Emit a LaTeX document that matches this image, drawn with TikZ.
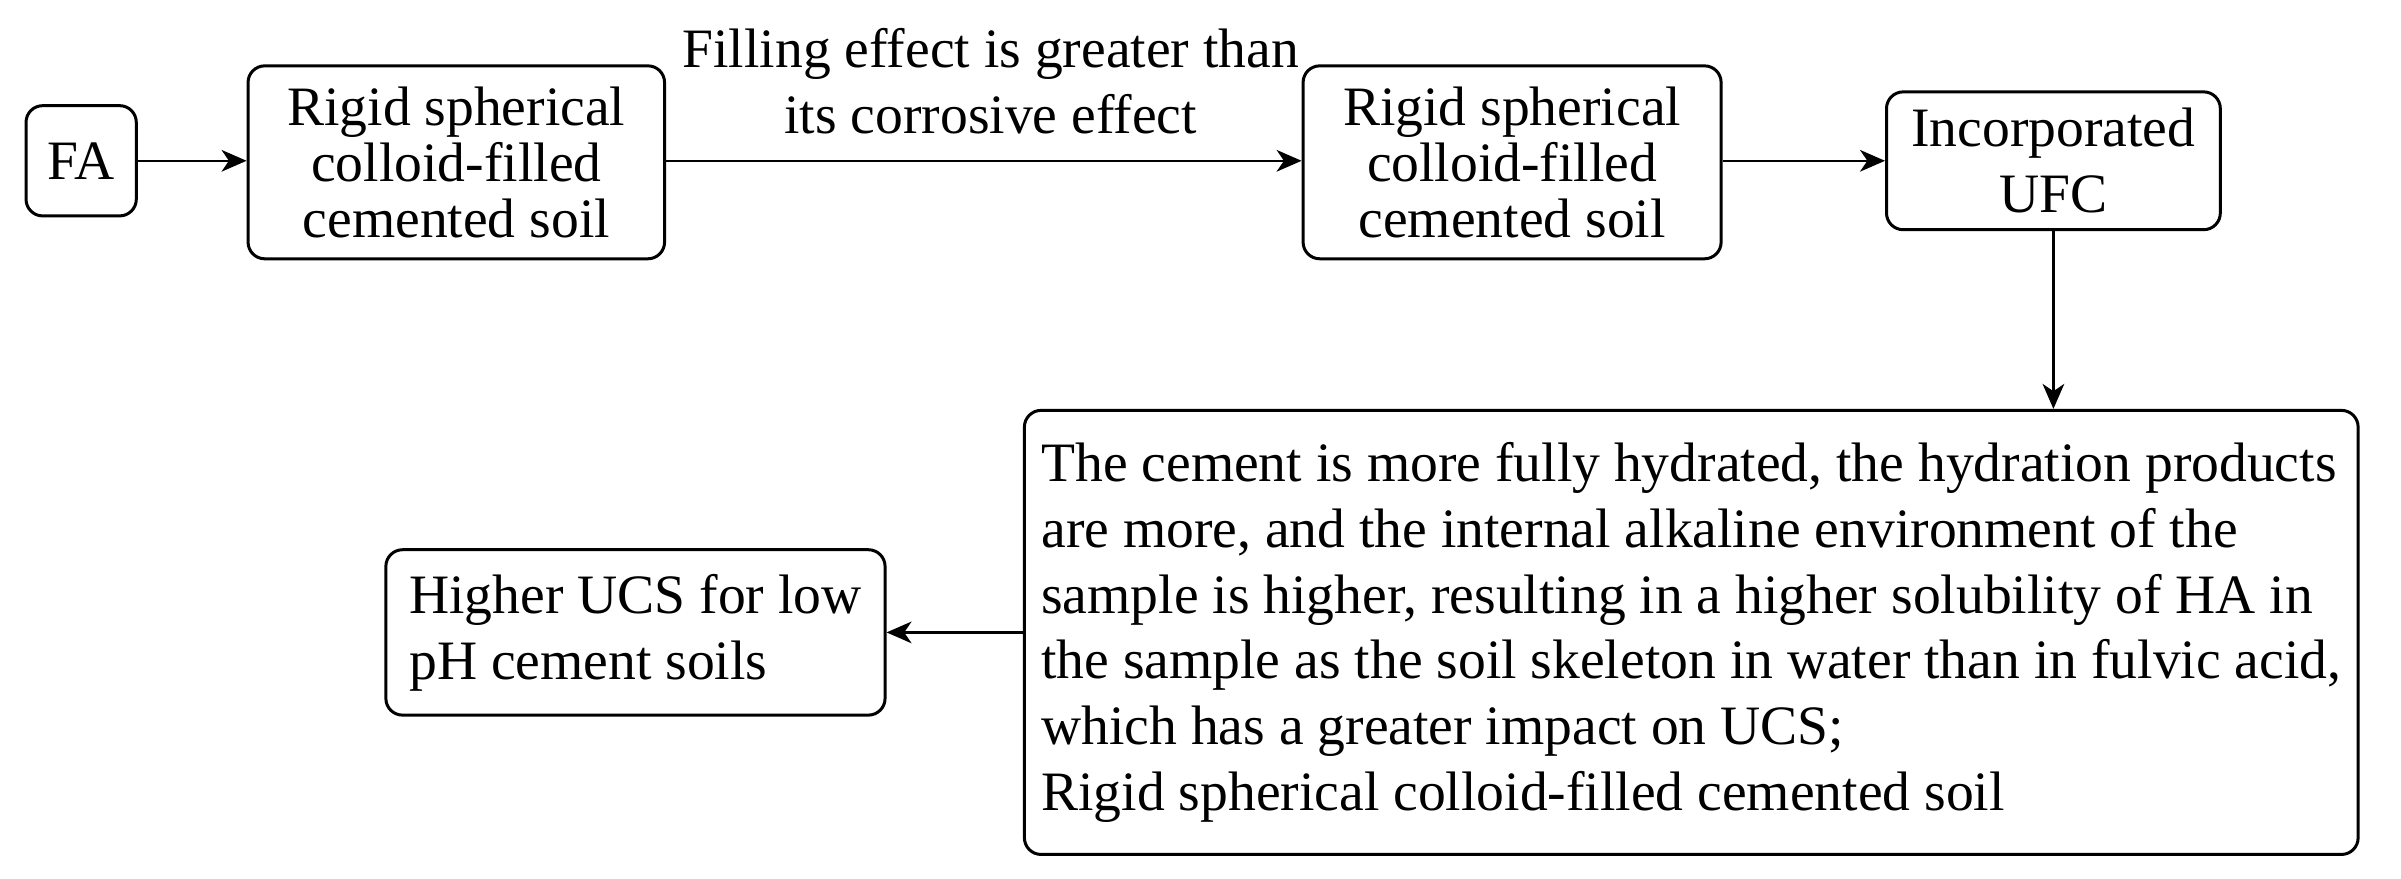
\documentclass[tikz,border=0pt]{standalone}
\usepackage{fontspec}
\setmainfont{Liberation Serif}
\usetikzlibrary{arrows.meta}
\tikzset{
  box/.style={draw, line width=0.9pt, rounded corners=5pt, inner sep=0pt,
    font=\fontsize{16.7}{19.8}\selectfont},
  tightbox/.style={box, font=\fontsize{16.7}{16.9}\selectfont, align=center},
  conn/.style={line width=0.75pt, -{Stealth[length=7.5pt,width=6.5pt,inset=2.2pt]}}
}
\begin{document}
\begin{tikzpicture}[x=0.46pt,y=-0.46pt]
\useasboundingbox (0,0) rectangle (1568,574);
\node[box, align=center, minimum width={72*0.46pt}, minimum height={72*0.46pt}] (fa) at (53,105) {FA};
\node[tightbox, minimum width={272*0.46pt}, minimum height={126*0.46pt}] (b2) at (298,106) {Rigid spherical\\colloid-filled\\cemented soil};
\node[tightbox, minimum width={273*0.46pt}, minimum height={126*0.46pt}] (b3) at (987.5,106) {Rigid spherical\\colloid-filled\\cemented soil};
\node[box, align=center, minimum width={218*0.46pt}, minimum height={90*0.46pt}] (b4) at (1341,105) {Incorporated\\UFC};
\node[box, align=left, minimum width={871*0.46pt}, minimum height={290*0.46pt}] (b5) at (1104.5,413) {The cement is more fully hydrated, the hydration products\\are more, and the internal alkaline environment of the\\sample is higher, resulting in a higher solubility of HA in\\the sample as the soil skeleton in water than in fulvic acid,\\which has a greater impact on UCS;\\Rigid spherical colloid-filled cemented soil};
\node[box, align=left, minimum width={326*0.46pt}, minimum height={108*0.46pt}] (b6) at (415,413) {Higher UCS for low\\pH cement soils};
\node[align=center, inner sep=0pt, font=\fontsize{16.7}{19.8}\selectfont] (lab) at (647,53) {Filling effect is greater than\\its corrosive effect};
\draw[conn] (fa) -- (b2.west |- fa.east);
\draw[conn] (b2.east |- fa.east) -- (b3.west |- fa.east);
\draw[conn] (b3.east |- fa.east) -- (b4.west |- fa.east);
\draw[conn] (b4.south) -- (b4.south |- b5.north);
\draw[conn] (b5.west |- b6.east) -- (b6.east);
\end{tikzpicture}
\end{document}
